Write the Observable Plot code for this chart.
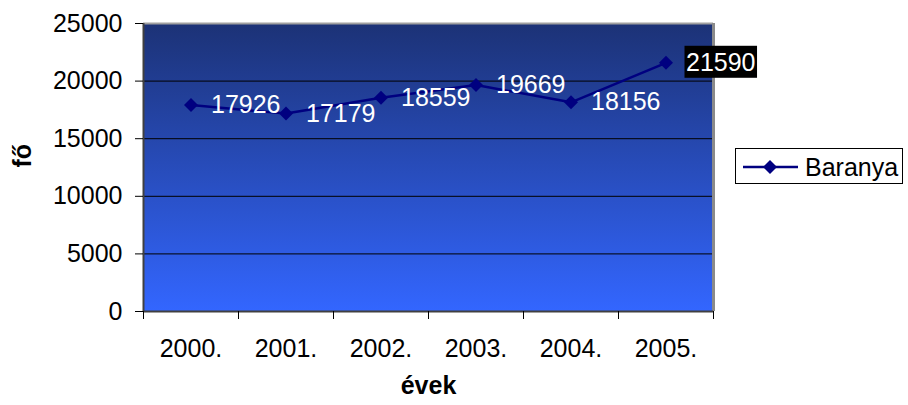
<!DOCTYPE html>
<html>
<head>
<meta charset="utf-8">
<script src="https://cdn.jsdelivr.net/npm/d3@7"></script>
<script src="https://cdn.jsdelivr.net/npm/@observablehq/plot@0.6"></script>
<style>
  body { margin: 0; background: #fff; font-family: "Liberation Sans", Arial, sans-serif; }
  #wrap { position: relative; width: 908px; height: 405px; }
  #legend { position: absolute; left: 735px; top: 148px; width: 168px; height: 36px;
            border: 1px solid #000; background: #fff; box-sizing: border-box; }
</style>
</head>
<body>
<div id="wrap"><div id="chart"></div><div id="legend"></div></div>
<script>
const years = ["2000.", "2001.", "2002.", "2003.", "2004.", "2005."];
const values = [17926, 17179, 18559, 19669, 18156, 21590];
const seriesName = "Baranya";
const yTicks = [0, 5000, 10000, 15000, 20000, 25000];
const gridValues = [5000, 10000, 15000, 20000];

const data = years.map((year, i) => ({year, value: values[i], pos: i + 0.5, last: i === years.length - 1}));
const boundaries = d3.range(years.length + 1);
const centers = years.map((_, i) => i + 0.5);

const font = "Liberation Sans, Arial, sans-serif";
const navy = "#000080";

const svg = Plot.plot({
  width: 908,
  height: 405,
  marginLeft: 143,
  marginRight: 195,
  marginTop: 23,
  marginBottom: 94,
  style: {fontFamily: font, background: "transparent", overflow: "visible"},
  x: {type: "linear", domain: [0, years.length]},
  y: {domain: [0, 25000]},
  marks: [
    Plot.frame({fill: "url(#bgGrad)", stroke: "none"}),
    Plot.ruleY(gridValues, {stroke: "#000", strokeWidth: 1}),
    Plot.ruleY([25000], {stroke: "#a0a0a0", strokeWidth: 2}),
    Plot.ruleX([years.length], {stroke: "#8a8a8a", strokeWidth: 3}),
    Plot.ruleX([0], {stroke: "#404040", strokeWidth: 2}),
    Plot.ruleY([0], {stroke: "#404040", strokeWidth: 2}),
    Plot.axisY({ticks: yTicks, tickSize: 8, tickPadding: 13, fontSize: 25, tickFormat: d => String(d), label: null, stroke: "#000", color: "#000"}),
    Plot.axisX({ticks: boundaries, tickSize: 8, tickFormat: () => "", label: null, stroke: "#000"}),
    Plot.axisX({ticks: centers, tickSize: 0, tickPadding: 28, fontSize: 25, tickFormat: (d, i) => years[i], label: null, color: "#000"}),
    Plot.line(data, {x: "pos", y: "value", stroke: navy, strokeWidth: 2.5}),
    Plot.dot(data, {x: "pos", y: "value", symbol: "diamond2", r: 6.3, fill: navy, stroke: "none"}),
    Plot.text(data, {x: "pos", y: "value", text: d => String(d.value), dx: 20, textAnchor: "start", fill: "#fff", fontSize: 25}),
    Plot.text(["fő"], {frameAnchor: "left", dx: -121, rotate: -90, fontSize: 25, fontWeight: "bold", fill: "#000"}),
    Plot.text(["évek"], {frameAnchor: "bottom", dy: 82, fontSize: 25, fontWeight: "bold", fill: "#000"})
  ]
});

const s = d3.select(svg);
const defs = s.insert("defs", ":first-child");
const grad = defs.append("linearGradient").attr("id", "bgGrad").attr("x1", 0).attr("y1", 0).attr("x2", 0).attr("y2", 1);
grad.append("stop").attr("offset", "0%").attr("stop-color", "#1c3276");
grad.append("stop").attr("offset", "100%").attr("stop-color", "#3366ff");

document.getElementById("chart").appendChild(svg);

// black box behind the last data label (it sticks out of the plot area)
const lastText = String(values[values.length - 1]);
s.selectAll("text").filter(function() { return this.textContent === lastText; }).each(function() {
  const bb = this.getBBox();
  const padX = 1.5, padY = 2;
  d3.select(this.parentNode).insert("rect", () => this)
    .attr("transform", this.getAttribute("transform"))
    .attr("x", bb.x - padX).attr("y", bb.y - padY)
    .attr("width", bb.width + 2 * padX).attr("height", bb.height + 2 * padY)
    .attr("fill", "#000");
});

// legend
const lg = d3.select("#legend").append("svg").attr("width", 166).attr("height", 34).style("display", "block");
lg.append("line").attr("x1", 7).attr("x2", 62).attr("y1", 18).attr("y2", 18).attr("stroke", navy).attr("stroke-width", 2.5);
lg.append("path").attr("d", d3.symbol(d3.symbolDiamond2, 125)()).attr("transform", "translate(34,18)").attr("fill", navy);
lg.append("text").attr("x", 69).attr("y", 18).attr("dy", "0.35em").attr("font-size", 25).attr("font-family", font).text(seriesName);
</script>
</body>
</html>
